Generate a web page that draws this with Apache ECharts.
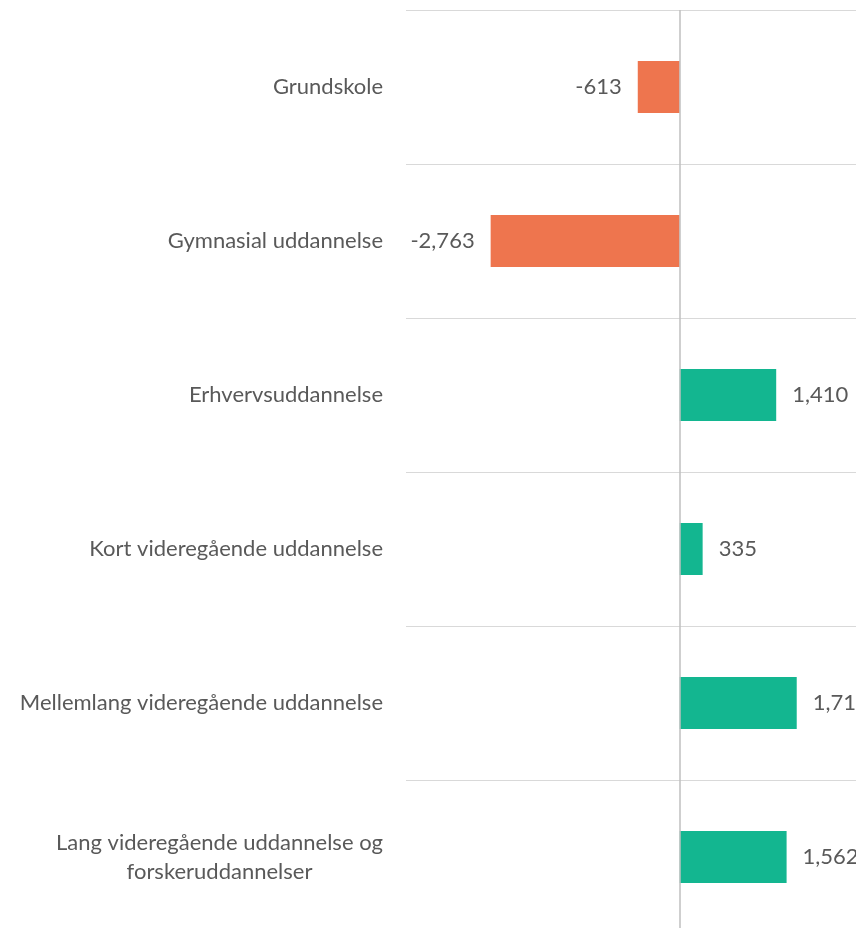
<!DOCTYPE html>
<html>
<head>
<meta charset="utf-8">
<script src="https://cdn.jsdelivr.net/npm/echarts@6/dist/echarts.min.js"></script>
<style>
  html, body { margin: 0; padding: 0; background: #fff; overflow: hidden; }
  #chart { width: 900px; height: 940px; }
</style>
</head>
<body>
<div id="chart"></div>
<script>
var categories = [
  'Grundskole',
  'Gymnasial uddannelse',
  'Erhvervsuddannelse',
  'Kort videregående uddannelse',
  'Mellemlang videregående uddannelse',
  'Lang videregående uddannelse og\nforskeruddannelser'
];
var values = [-613, -2763, 1410, 335, 1710, 1562];

var negColor = '#EE754E';
var posColor = '#13B690';
var textColor = '#595959';
var font = 'Lato';

// the chart area runs past the right and bottom edge of the window, as in the original
var myChart = echarts.init(document.getElementById('chart'));

var barData = values.map(function (v) {
  return {
    value: v,
    itemStyle: { color: v < 0 ? negColor : posColor },
    label: { position: v < 0 ? 'left' : 'right' }
  };
});

var option = {
  animation: false,
  grid: { left: 406, top: 10, width: 479, height: 924, containLabel: false },
  xAxis: {
    type: 'value',
    min: -4000,
    max: 3000,
    axisLine: { show: false },
    axisTick: { show: false },
    axisLabel: { show: false },
    splitLine: { show: false }
  },
  yAxis: {
    type: 'category',
    inverse: true,
    data: categories,
    axisLine: { show: false },
    axisTick: { show: false },
    splitLine: { show: true, lineStyle: { color: '#d9d9d9', width: 1 } },
    axisLabel: {
      margin: 23,
      color: textColor,
      fontFamily: font,
      fontSize: 22,
      lineHeight: 29,
      formatter: function (v) { return '{c|' + v + '}'; },
      rich: {
        c: { align: 'center', color: textColor, fontFamily: font, fontSize: 22, lineHeight: 29 }
      }
    }
  },
  series: [{
    type: 'bar',
    data: barData,
    barWidth: 52,
    label: {
      show: true,
      distance: 16,
      color: textColor,
      fontFamily: font,
      fontSize: 22,
      formatter: function (p) { return p.value.toLocaleString('en-US'); }
    },
    markLine: {
      silent: true,
      symbol: 'none',
      label: { show: false },
      lineStyle: { color: '#bfbfbf', width: 1.5, type: 'solid' },
      data: [{ xAxis: 0 }]
    }
  }]
};
myChart.setOption(option);
</script>
</body>
</html>
